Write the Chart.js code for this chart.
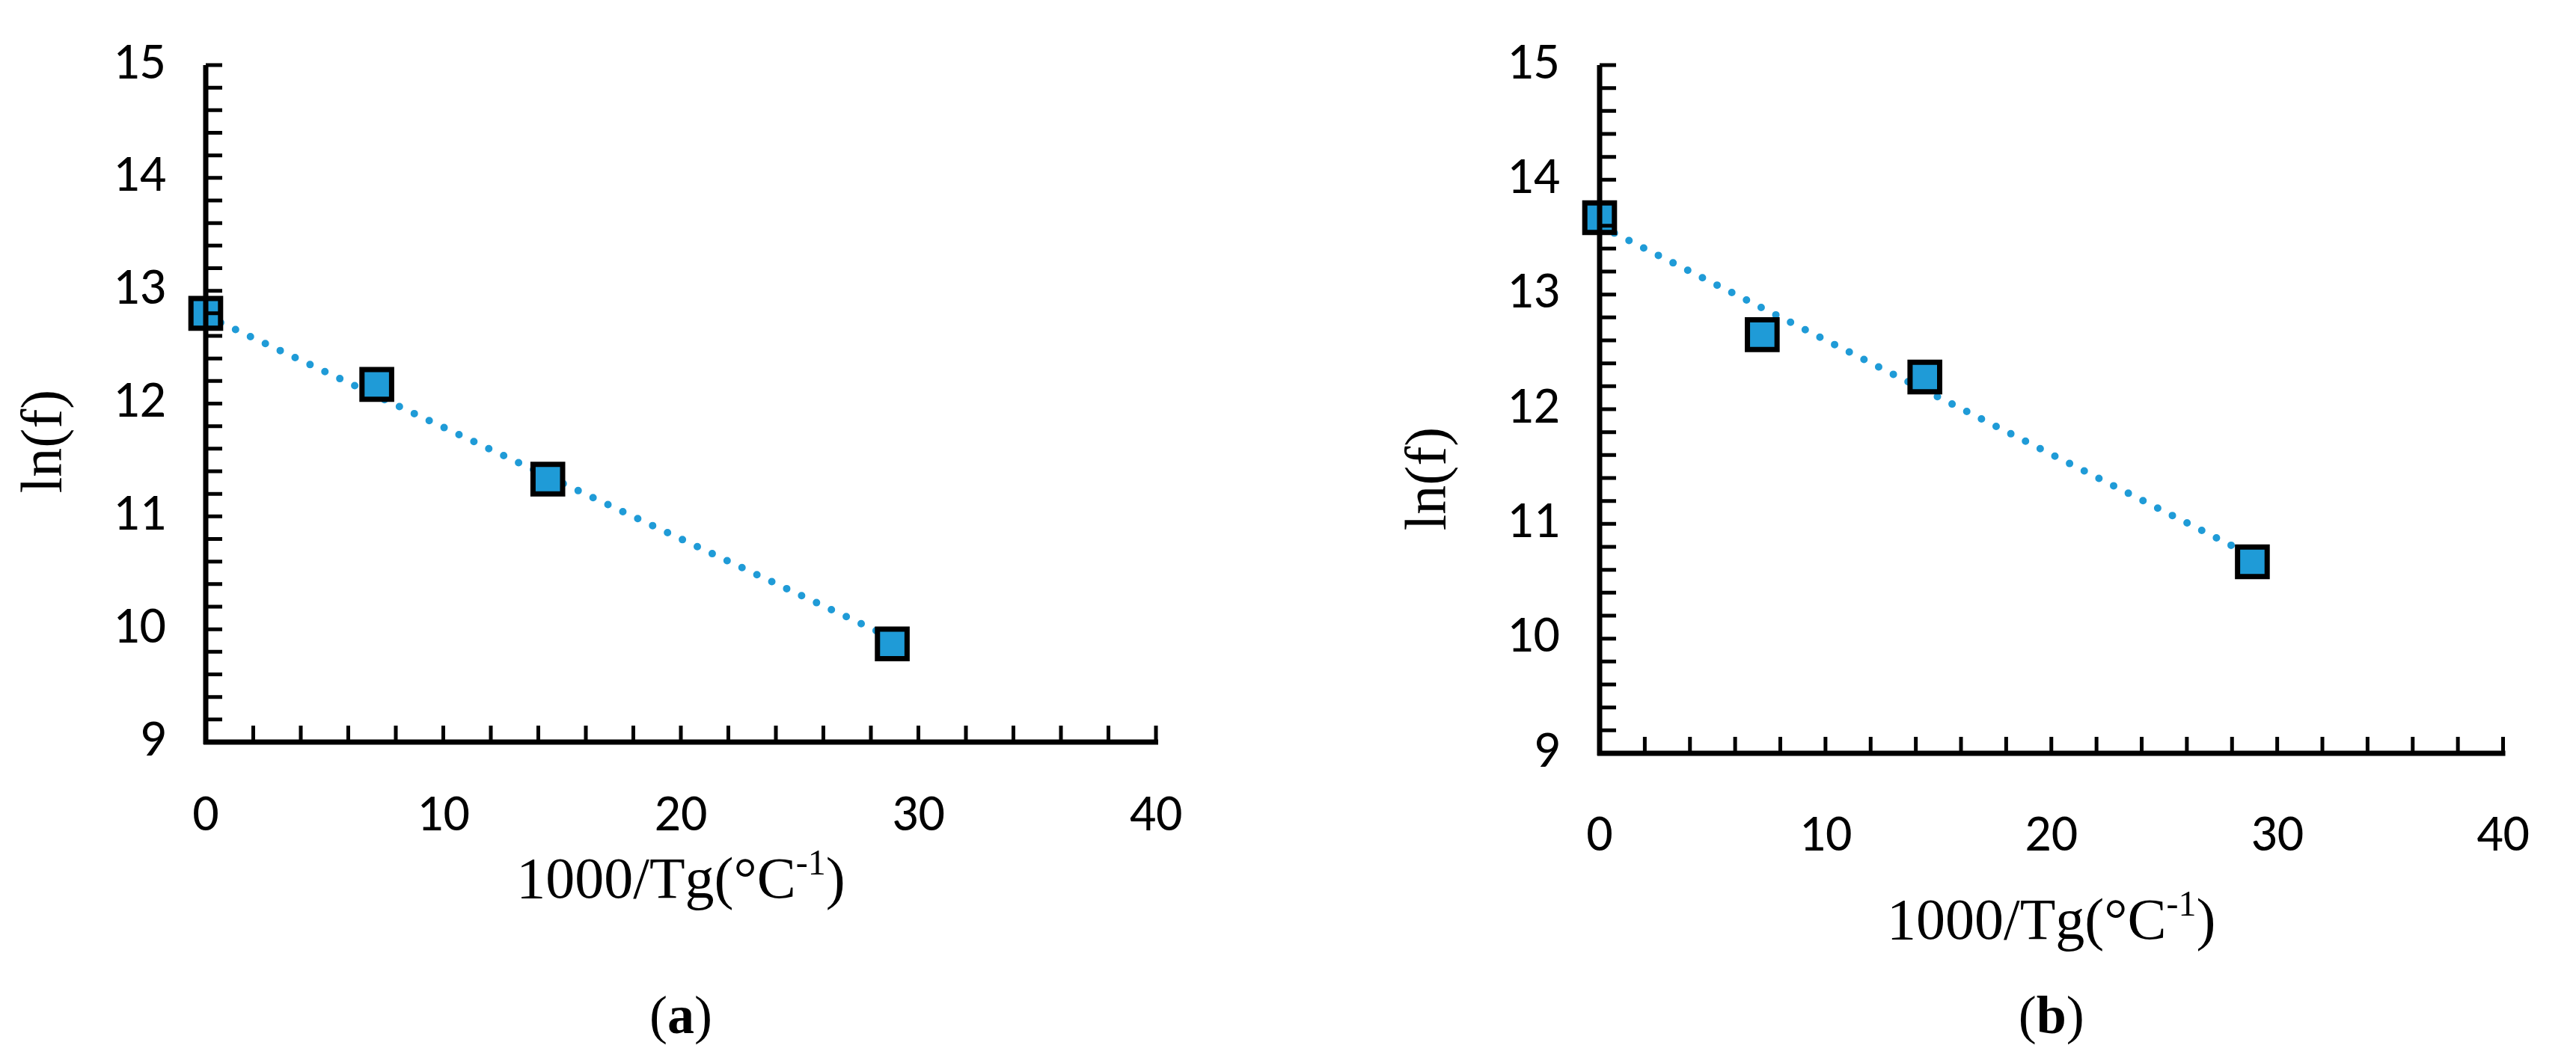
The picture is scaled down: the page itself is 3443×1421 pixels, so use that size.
<!DOCTYPE html>
<html>
<head>
<meta charset="utf-8">
<script src="https://cdn.jsdelivr.net/npm/chart.js@4"></script>
<style>
  body { margin: 0; background: #fff; width: 3443px; height: 1421px; position: relative; overflow: hidden; }
  canvas { position: absolute; top: 0; }
</style>
</head>
<body>
<canvas id="chart-a" style="left:0"></canvas>
<canvas id="chart-b" style="left:1720px"></canvas>
<script>
// values
const xValues = [0, 7.2, 14.4, 28.9];
const lnfA = [12.8, 12.17, 11.33, 9.87];
const lnfB = [13.67, 12.65, 12.28, 10.67];
// linear trend lines (end points as seen in the picture)
const trendXA = [0, 28.9];
const trendYA = [12.78, 9.92];
const trendXB = [0, 28.9];
const trendYB = [13.6, 10.72];

const BLUE = '#1f9bd7';

// inward minor ticks, axis lines, titles and caption
const axisPlugin = {
    id: 'axisDecor',
    afterDraw(chart, args, opts) {
        const ctx = chart.ctx;
        const xs = chart.scales.x, ys = chart.scales.y;
        const left = xs.left, bottom = ys.bottom, right = xs.right, top = ys.top;
        ctx.save();
        ctx.strokeStyle = '#000';
        ctx.lineWidth = 7;
        ctx.beginPath();
        ctx.moveTo(left, top); ctx.lineTo(left, bottom + 3);
        ctx.moveTo(left - 3, bottom); ctx.lineTo(right + 3, bottom);
        ctx.stroke();
        ctx.lineWidth = 5;
        ctx.beginPath();
        for (let v = 2; v <= 40; v += 2) {
            const px = xs.getPixelForValue(v);
            ctx.moveTo(px, bottom); ctx.lineTo(px, bottom - 22);
        }
        for (let i = 0; i < 30; i++) {
            const py = ys.getPixelForValue(9.2 + i * 0.2);
            ctx.moveTo(left, py); ctx.lineTo(left + 22, py);
        }
        ctx.stroke();

        ctx.fillStyle = '#000';
        ctx.textBaseline = 'middle';
        // x title with superscript
        ctx.font = '78px "Liberation Serif"';
        const t1 = '1000/Tg(°C', sup = '-1', t2 = ')';
        const w1 = ctx.measureText(t1).width, w2 = ctx.measureText(t2).width;
        ctx.font = '48px "Liberation Serif"';
        const ws = ctx.measureText(sup).width;
        let x0 = (left + right) / 2 - (w1 + ws + w2) / 2;
        ctx.font = '78px "Liberation Serif"';
        ctx.textAlign = 'left';
        ctx.fillText(t1, x0, opts.titleY);
        ctx.fillText(t2, x0 + w1 + ws, opts.titleY);
        ctx.font = '48px "Liberation Serif"';
        ctx.fillText(sup, x0 + w1, opts.titleY - 24);
        // y title
        ctx.save();
        ctx.translate(opts.yTitleX, opts.yTitleY);
        ctx.rotate(-Math.PI / 2);
        ctx.textAlign = 'center';
        ctx.font = '78px "Liberation Serif"';
        ctx.fillText('ln(f)', 0, 0);
        ctx.restore();
        // caption
        ctx.font = '72px "Liberation Serif"';
        const wp = ctx.measureText('(').width;
        ctx.font = 'bold 72px "Liberation Serif"';
        const wl = ctx.measureText(opts.caption).width;
        const cx = (left + right) / 2 - (2 * wp + wl) / 2;
        ctx.font = '72px "Liberation Serif"';
        ctx.fillText('(', cx, opts.captionY);
        ctx.fillText(')', cx + wp + wl, opts.captionY);
        ctx.font = 'bold 72px "Liberation Serif"';
        ctx.fillText(opts.caption, cx + wp, opts.captionY);
        ctx.restore();
    }
};

function makeChart(id, width, lnf, trendX, trendY, g) {
    const canvas = document.getElementById(id);
    canvas.width = width; canvas.height = 1421;
    canvas.style.width = width + 'px'; canvas.style.height = '1421px';
    return new Chart(canvas.getContext('2d'), {
        type: 'scatter',
        data: {
            datasets: [{
                data: xValues.map((x, i) => ({x: x, y: lnf[i]})),
                pointStyle: 'rect',
                pointRadius: 28,
                pointBackgroundColor: BLUE,
                pointBorderColor: '#000',
                pointBorderWidth: 7,
                order: 0
            }, {
                type: 'line',
                data: trendX.map((x, i) => ({x: x, y: trendY[i]})),
                borderColor: BLUE,
                borderWidth: 10,
                borderDash: [0, 22],
                borderCapStyle: 'round',
                pointRadius: 0,
                order: 1
            }]
        },
        options: {
            responsive: false,
            animation: false,
            devicePixelRatio: 1,
            clip: false,
            layout: { padding: { left: 0, top: g.top, right: width - g.x40 } },
            plugins: { legend: { display: false }, tooltip: { enabled: false }, axisDecor: g.decor },
            scales: {
                x: {
                    type: 'linear', min: 0, max: 40,
                    grid: { display: false }, border: { display: false },
                    ticks: { stepSize: 10, padding: g.xPad, color: '#000', font: { family: 'Carlito, "Liberation Sans"', size: 70 } },
                    afterFit: s => { s.height = 1421 - g.axisY; }
                },
                y: {
                    min: 9, max: 15,
                    grid: { display: false }, border: { display: false },
                    ticks: { stepSize: 1, padding: 45, color: '#000', font: { family: 'Carlito, "Liberation Sans"', size: 70 } },
                    afterFit: s => { s.width = g.axisX; }
                }
            }
        },
        plugins: [axisPlugin]
    });
}

makeChart('chart-a', 1720, lnfA, trendXA, trendYA, {
    top: 55, axisY: 992, axisX: 275, x40: 1545, xPad: 50,
    decor: { titleY: 1180, yTitleX: 62, yTitleY: 590, caption: 'a', captionY: 1362 }
});
makeChart('chart-b', 1723, lnfB, trendXB, trendYB, {
    top: 68, axisY: 1007, axisX: 418, x40: 1668, xPad: 62,
    decor: { titleY: 1235, yTitleX: 192, yTitleY: 640, caption: 'b', captionY: 1362 }
});
</script>
</body>
</html>
